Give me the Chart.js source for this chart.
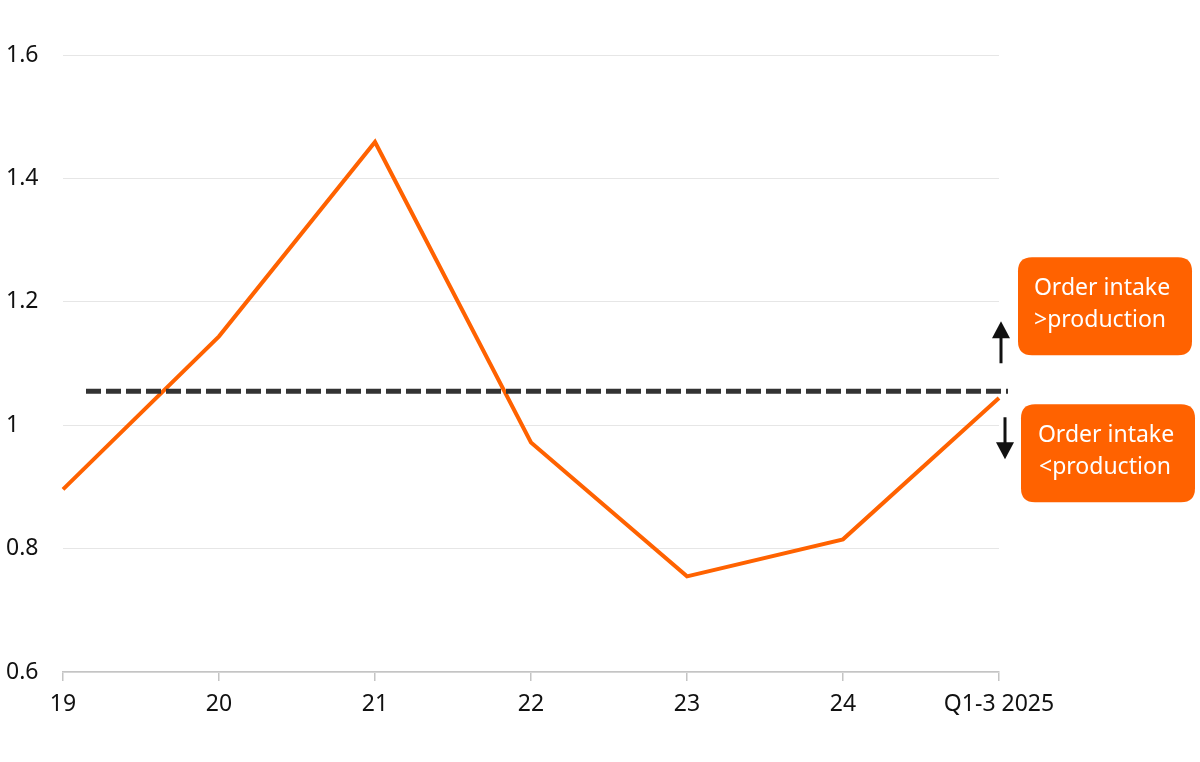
<!DOCTYPE html>
<html>
<head>
<meta charset="utf-8">
<script src="https://cdn.jsdelivr.net/npm/chart.js@4"></script>
<style>
    html, body { margin: 0; padding: 0; background: #fff; }
    #wrap { width: 1200px; height: 762px; }
</style>
</head>
<body>
<div id="wrap"><canvas id="grafico" width="1200" height="762"></canvas></div>
<script>
// dados
const categorias = ['19', '20', '21', '22', '23', '24', 'Q1-3 2025'];
const razaoPedidos = [0.896, 1.144, 1.459, 0.972, 0.755, 0.815, 1.044];
const mediaLonga = 1.055;
const ticksY = [0.6, 0.8, 1.0, 1.2, 1.4, 1.6];
const textoAcima = ['Order intake', '>production'];
const textoAbaixo = ['Order intake', '<production'];

const FONTE = '"Noto Sans", sans-serif';
const LARANJA = '#ff6200';

function caixa(ctx, x, y, w, h, r) {
    ctx.beginPath();
    ctx.moveTo(x + r, y);
    ctx.lineTo(x + w - r, y);
    ctx.quadraticCurveTo(x + w, y, x + w, y + r);
    ctx.lineTo(x + w, y + h - r);
    ctx.quadraticCurveTo(x + w, y + h, x + w - r, y + h);
    ctx.lineTo(x + r, y + h);
    ctx.quadraticCurveTo(x, y + h, x, y + h - r);
    ctx.lineTo(x, y + r);
    ctx.quadraticCurveTo(x, y, x + r, y);
    ctx.closePath();
}

function seta(ctx, x, y1, y2) {
    // y1 = base, y2 = ponta
    const dir = y2 < y1 ? -1 : 1;
    ctx.strokeStyle = '#111';
    ctx.fillStyle = '#111';
    ctx.lineWidth = 3;
    ctx.beginPath();
    ctx.moveTo(x, y1);
    ctx.lineTo(x, y2 - dir * 14);
    ctx.stroke();
    ctx.beginPath();
    ctx.moveTo(x - 9, y2 - dir * 17);
    ctx.lineTo(x + 9, y2 - dir * 17);
    ctx.lineTo(x, y2);
    ctx.closePath();
    ctx.fill();
}

const pluginLimite = {
    id: 'limite',
    afterDatasetsDraw(chart) {
        const ctx = chart.ctx;
        const area = chart.chartArea;
        const y = chart.scales.y.getPixelForValue(mediaLonga);
        ctx.save();
        ctx.strokeStyle = '#333333';
        ctx.lineWidth = 5;
        ctx.setLineDash([15, 5]);
        ctx.beginPath();
        ctx.moveTo(area.left + 23, y);
        ctx.lineTo(area.right + 9, y);
        ctx.stroke();
        ctx.setLineDash([]);

        // setas
        seta(ctx, area.right + 2, y - 28, y - 70);
        seta(ctx, area.right + 6, y + 26, y + 68);

        // caixas
        ctx.fillStyle = LARANJA;
        caixa(ctx, area.right + 19, y - 134, 174, 98, 14);
        ctx.fill();
        caixa(ctx, area.right + 22, y + 13, 174, 98, 14);
        ctx.fill();

        ctx.fillStyle = '#ffffff';
        ctx.font = '23px ' + FONTE;
        ctx.textAlign = 'center';
        ctx.textBaseline = 'middle';
        ctx.fillText(textoAcima[0], area.right + 103, y - 103);
        ctx.fillText(textoAcima[1], area.right + 101, y - 71);
        ctx.fillText(textoAbaixo[0], area.right + 107, y + 44);
        ctx.fillText(textoAbaixo[1], area.right + 106, y + 76);
        ctx.restore();
    }
};

function montarGrafico() {
    const ctx = document.getElementById('grafico');
    new Chart(ctx, {
        type: 'line',
        data: {
            labels: categorias,
            datasets: [
                {
                    label: 'Order intake / production',
                    data: razaoPedidos,
                    borderColor: LARANJA,
                    borderWidth: 4,
                    pointRadius: 0,
                    tension: 0,
                    fill: false
                }
            ]
        },
        options: {
            responsive: false,
            animation: false,
            layout: {
                padding: { left: 6, right: 201, top: 55, bottom: 0 }
            },
            plugins: {
                legend: { display: false },
                tooltip: { enabled: false }
            },
            scales: {
                x: {
                    offset: false,
                    border: { display: true, color: '#c4c4c4', width: 1.5 },
                    grid: {
                        drawOnChartArea: false,
                        drawTicks: true,
                        tickLength: 9,
                        color: '#c4c4c4',
                        lineWidth: 1.5
                    },
                    ticks: {
                        color: '#111',
                        font: { family: FONTE, size: 23 },
                        padding: 10,
                        maxRotation: 0,
                        autoSkip: false
                    },
                    afterFit(scale) { scale.height = 90; }
                },
                y: {
                    min: 0.6,
                    max: 1.6,
                    afterBuildTicks(scale) {
                        scale.ticks = ticksY.map(v => ({ value: v }));
                    },
                    border: { display: false },
                    grid: {
                        color: '#e6e6e6',
                        lineWidth: 1,
                        drawTicks: false
                    },
                    ticks: {
                        color: '#111',
                        crossAlign: 'far',
                        font: { family: FONTE, size: 23 },
                        padding: 0,
                        callback: v => String(Math.round(v * 10) / 10)
                    },
                    afterFit(scale) { scale.width = 57; }
                }
            }
        },
        plugins: [pluginLimite]
    });
}

document.addEventListener('DOMContentLoaded', function(){
    montarGrafico();
});
</script>
</body>
</html>
